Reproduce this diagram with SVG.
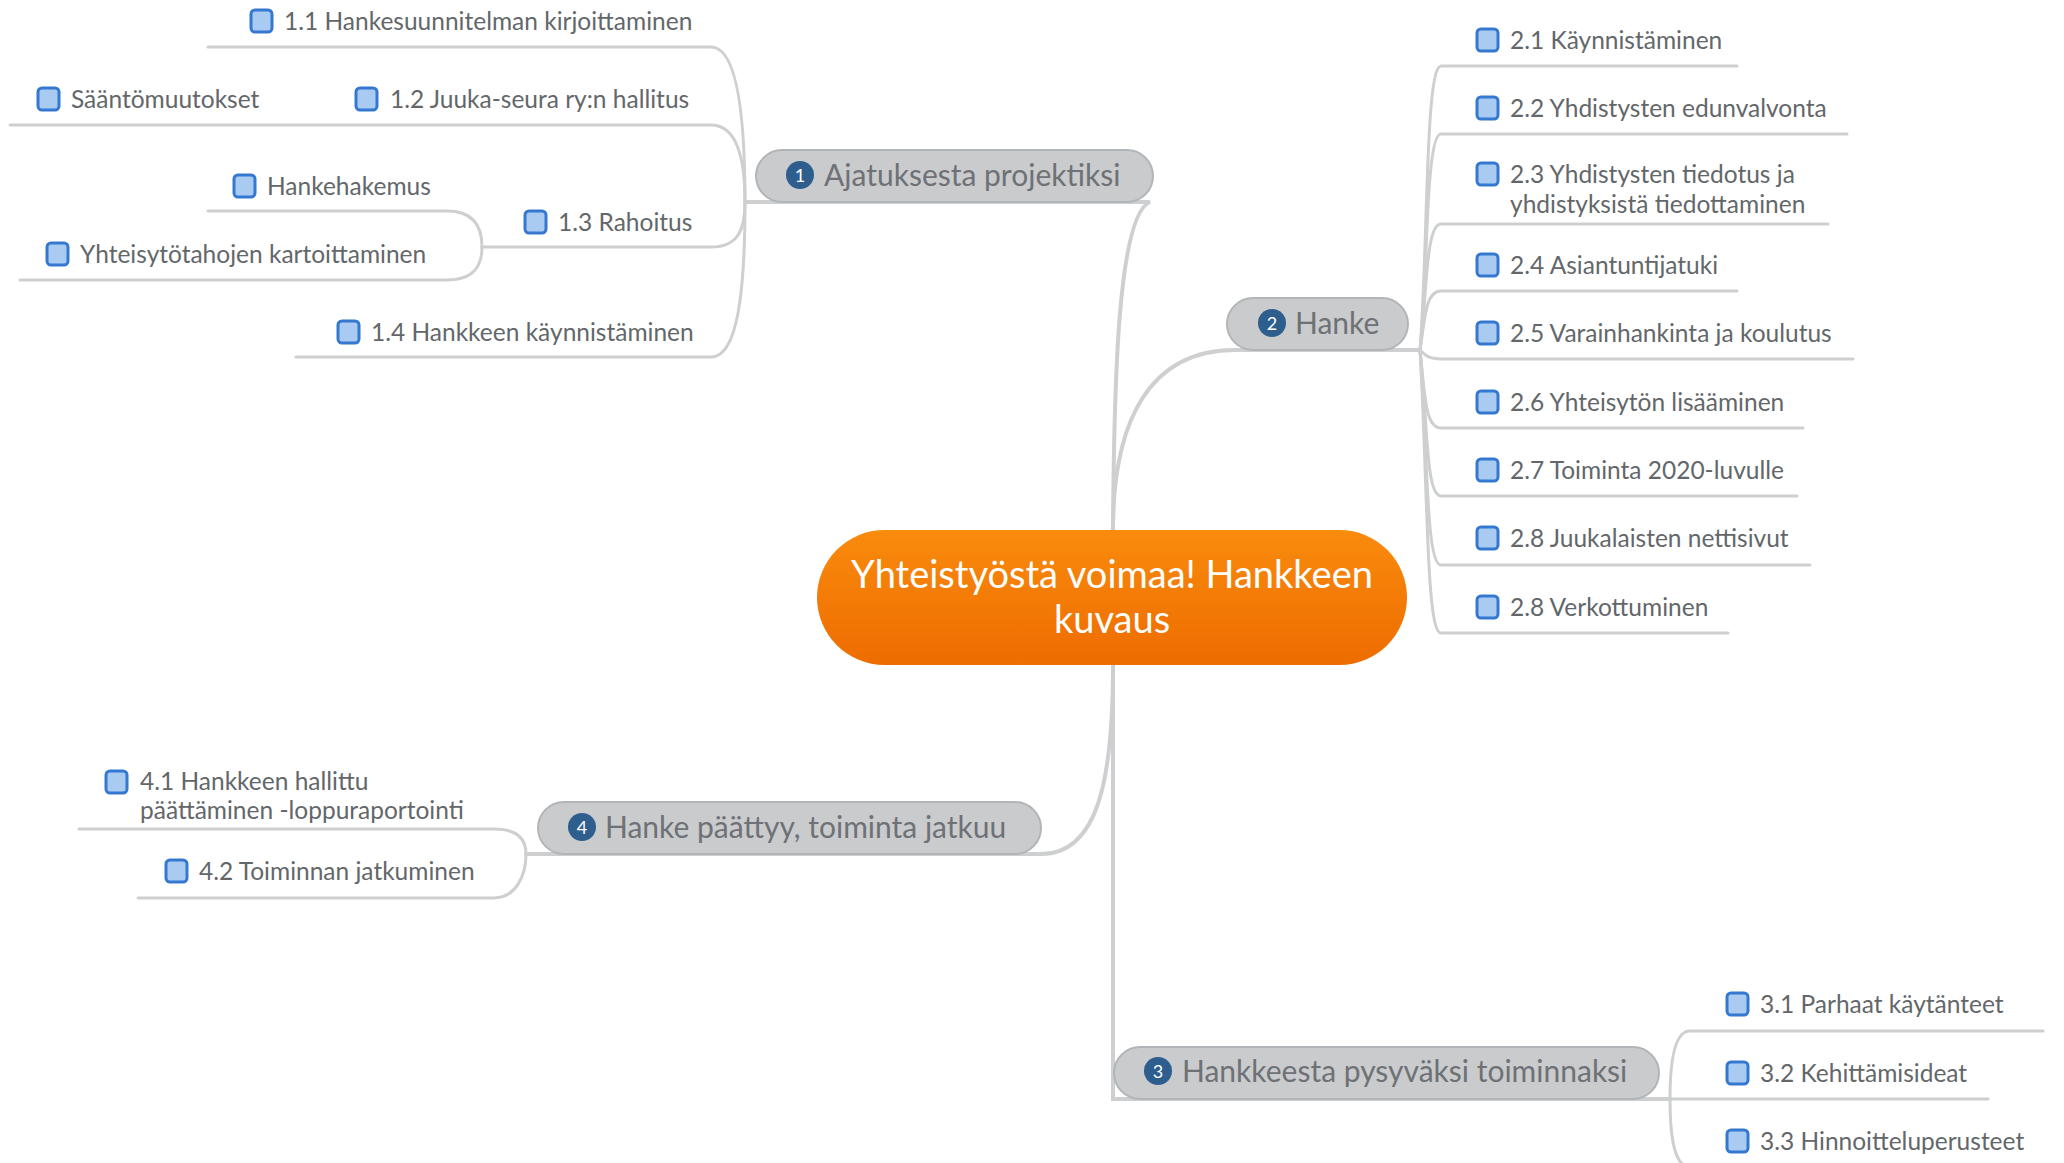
<svg xmlns="http://www.w3.org/2000/svg" width="2064" height="1163" viewBox="0 0 2064 1163">
<defs>
<linearGradient id="og" x1="0" y1="0" x2="0" y2="1">
<stop offset="0" stop-color="#F98B0D"/>
<stop offset="1" stop-color="#EE6C00"/>
</linearGradient>
<style>
.ln{fill:none;stroke:#CDCFD0;stroke-width:3;stroke-linecap:round}
.mln{fill:none;stroke:#CDCFD0;stroke-width:4;stroke-linecap:round}
.pill{fill:#C9CBCD;stroke:#B2B5B7;stroke-width:2}
.tt{font-family:Lato,"Open Sans",sans-serif;font-size:30px;fill:#6E7175}
.num{font-family:Lato,"Open Sans",sans-serif;font-size:18px;fill:#FFFFFF;text-anchor:middle}
.nc{fill:#2E5E8E}
.st{font-family:Lato,"Open Sans",sans-serif;font-size:24.5px;fill:#63676A}
.cb{fill:#A9CBF2;stroke:#3478D0;stroke-width:3}
.ct{font-family:Lato,"Open Sans",sans-serif;font-size:38px;fill:#FFFFFF;text-anchor:middle}
</style>
</defs>
<rect width="2064" height="1163" fill="#FFFFFF"/>
<g id="connectors">
<path class="mln" d="M1113,530 C1114,380 1118,215 1150,202 L745,202"/>
<path class="mln" d="M1113,530 C1113,420 1150,350 1235,350 L1420,350"/>
<path class="mln" d="M1113,665 L1113,1099 L1670,1099"/>
<path class="mln" d="M1113,665 C1113,780 1098,854 1041,854 L526,854"/>
<path class="ln" d="M745,202 C745,120 738,47 711,47 L208,47"/>
<path class="ln" d="M745,202 C745,160 738,125 711,125 L10,125"/>
<path class="ln" d="M745,202 C745,230 738,247 711,247 L482,247"/>
<path class="ln" d="M745,202 C745,290 738,357 711,357 L296,357"/>
<path class="ln" d="M482,247 C482,225 472,211 447,211 L208,211"/>
<path class="ln" d="M482,247 C482,268 472,280 447,280 L20,280"/>
<path class="ln" d="M1420,350 C1428,250 1425,66 1441,66 L1737,66"/>
<path class="ln" d="M1420,350 C1428,280 1425,134 1441,134 L1847,134"/>
<path class="ln" d="M1420,350 C1427,300 1425,224 1441,224 L1828,224"/>
<path class="ln" d="M1420,350 C1425,320 1425,291 1441,291 L1737,291"/>
<path class="ln" d="M1420,350 C1425,355 1428,359 1441,359 L1853,359"/>
<path class="ln" d="M1420,350 C1425,400 1426,428 1441,428 L1803,428"/>
<path class="ln" d="M1420,350 C1428,430 1426,496 1441,496 L1797,496"/>
<path class="ln" d="M1420,350 C1428,460 1426,565 1441,565 L1810,565"/>
<path class="ln" d="M1420,350 C1428,490 1426,633 1441,633 L1728,633"/>
<path class="ln" d="M1670,1099 C1670,1060 1675,1031 1690,1031 L2043,1031"/>
<path class="ln" d="M1670,1099 L1988,1099"/>
<path class="ln" d="M1670,1099 C1670,1140 1675,1167 1690,1167 L2064,1167"/>
<path class="ln" d="M526,854 C526,838 516,829 494,829 L79,829"/>
<path class="ln" d="M526,854 C526,875 516,898 494,898 L138,898"/>
</g>
<g id="central">
<rect x="817" y="530" width="590" height="135" rx="67.5" fill="url(#og)"/>
<text class="ct" x="1112" y="588">Yhteistyöstä voimaa! Hankkeen</text>
<text class="ct" x="1112" y="633">kuvaus</text>
</g>
<g id="topic1">
<rect class="pill" x="756" y="150" width="397" height="52" rx="26"/>
<circle class="nc" cx="800" cy="175" r="14"/>
<text class="num" x="800" y="181.5">1</text>
<text class="tt" x="824" y="186">Ajatuksesta projektiksi</text>
</g>
<g id="topic2">
<rect class="pill" x="1227" y="298" width="181" height="52" rx="26"/>
<circle class="nc" cx="1272" cy="323" r="14"/>
<text class="num" x="1272" y="329.5">2</text>
<text class="tt" x="1295" y="334">Hanke</text>
</g>
<g id="topic3">
<rect class="pill" x="1114" y="1047" width="545" height="52" rx="26"/>
<circle class="nc" cx="1158" cy="1071" r="14"/>
<text class="num" x="1158" y="1077.5">3</text>
<text class="tt" x="1182" y="1082">Hankkeesta pysyväksi toiminnaksi</text>
</g>
<g id="topic4">
<rect class="pill" x="538" y="802" width="503" height="52" rx="26"/>
<circle class="nc" cx="582" cy="827" r="14"/>
<text class="num" x="582" y="833.5">4</text>
<text class="tt" x="605" y="838">Hanke päättyy, toiminta jatkuu</text>
</g>
<g id="n11"><rect class="cb" x="251" y="10" width="21" height="22" rx="4"/><text class="st" x="284" y="29.5">1.1 Hankesuunnitelman kirjoittaminen</text></g>
<g id="n12"><rect class="cb" x="356" y="88" width="21" height="22" rx="4"/><text class="st" x="390" y="107.5">1.2 Juuka-seura ry:n hallitus</text></g>
<g id="n121"><rect class="cb" x="38" y="88" width="21" height="22" rx="4"/><text class="st" x="71" y="107.5">Sääntömuutokset</text></g>
<g id="n13"><rect class="cb" x="525" y="211" width="21" height="22" rx="4"/><text class="st" x="558" y="230.5">1.3 Rahoitus</text></g>
<g id="n131"><rect class="cb" x="234" y="175" width="21" height="22" rx="4"/><text class="st" x="267" y="194.5">Hankehakemus</text></g>
<g id="n132"><rect class="cb" x="47" y="243" width="21" height="22" rx="4"/><text class="st" x="80" y="262.5">Yhteisytötahojen kartoittaminen</text></g>
<g id="n14"><rect class="cb" x="338" y="321" width="21" height="22" rx="4"/><text class="st" x="371" y="340.5">1.4 Hankkeen käynnistäminen</text></g>
<g id="n21"><rect class="cb" x="1477" y="29" width="21" height="22" rx="4"/><text class="st" x="1510" y="48.5">2.1 Käynnistäminen</text></g>
<g id="n22"><rect class="cb" x="1477" y="97" width="21" height="22" rx="4"/><text class="st" x="1510" y="116.5">2.2 Yhdistysten edunvalvonta</text></g>
<g id="n23"><rect class="cb" x="1477" y="163" width="21" height="22" rx="4"/><text class="st" x="1510" y="182.5">2.3 Yhdistysten tiedotus ja</text><text class="st" x="1510" y="212.5">yhdistyksistä tiedottaminen</text></g>
<g id="n24"><rect class="cb" x="1477" y="254" width="21" height="22" rx="4"/><text class="st" x="1510" y="273.5">2.4 Asiantuntijatuki</text></g>
<g id="n25"><rect class="cb" x="1477" y="322" width="21" height="22" rx="4"/><text class="st" x="1510" y="341.5">2.5 Varainhankinta ja koulutus</text></g>
<g id="n26"><rect class="cb" x="1477" y="391" width="21" height="22" rx="4"/><text class="st" x="1510" y="410.5">2.6 Yhteisytön lisääminen</text></g>
<g id="n27"><rect class="cb" x="1477" y="459" width="21" height="22" rx="4"/><text class="st" x="1510" y="478.5">2.7 Toiminta 2020-luvulle</text></g>
<g id="n28"><rect class="cb" x="1477" y="527" width="21" height="22" rx="4"/><text class="st" x="1510" y="546.5">2.8 Juukalaisten nettisivut</text></g>
<g id="n29"><rect class="cb" x="1477" y="596" width="21" height="22" rx="4"/><text class="st" x="1510" y="615.5">2.8 Verkottuminen</text></g>
<g id="n31"><rect class="cb" x="1727" y="993" width="21" height="22" rx="4"/><text class="st" x="1760" y="1012.5">3.1 Parhaat käytänteet</text></g>
<g id="n32"><rect class="cb" x="1727" y="1062" width="21" height="22" rx="4"/><text class="st" x="1760" y="1081.5">3.2 Kehittämisideat</text></g>
<g id="n33"><rect class="cb" x="1727" y="1130" width="21" height="22" rx="4"/><text class="st" x="1760" y="1149.5">3.3 Hinnoitteluperusteet</text></g>
<g id="n41"><rect class="cb" x="106" y="771" width="21" height="22" rx="4"/><text class="st" x="140" y="789.5">4.1 Hankkeen hallittu</text><text class="st" x="140" y="818.5">päättäminen -loppuraportointi</text></g>
<g id="n42"><rect class="cb" x="166" y="860" width="21" height="22" rx="4"/><text class="st" x="199" y="879.5">4.2 Toiminnan jatkuminen</text></g>
</svg>
